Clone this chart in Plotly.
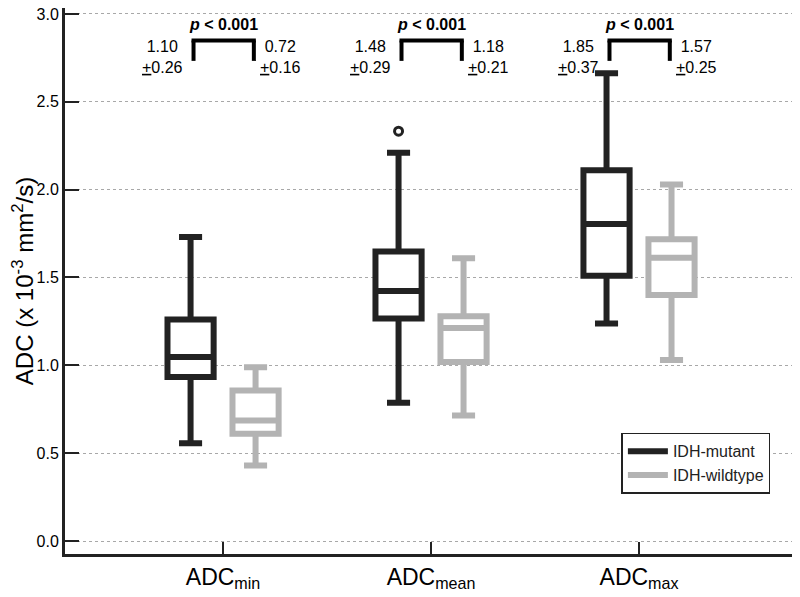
import plotly.graph_objects as go

# ---------------- data ----------------
categories = ["ADCmin", "ADCmean", "ADCmax"]
category_labels = ["ADC<sub>min</sub>", "ADC<sub>mean</sub>", "ADC<sub>max</sub>"]

mut_lower = [0.556, 0.787, 1.238]
mut_q1 = [0.933, 1.267, 1.510]
mut_median = [1.048, 1.423, 1.804]
mut_q3 = [1.261, 1.648, 2.110]
mut_upper = [1.730, 2.210, 2.663]
outlier_category = ["ADCmean"]
outlier_value = [2.333]

wt_lower = [0.430, 0.714, 1.030]
wt_q1 = [0.610, 1.019, 1.400]
wt_median = [0.686, 1.213, 1.613]
wt_q3 = [0.857, 1.280, 1.718]
wt_upper = [0.989, 1.610, 2.029]

mut_mean = ["1.10", "1.48", "1.85"]
mut_sd = ["0.26", "0.29", "0.37"]
wt_mean = ["0.72", "1.18", "1.57"]
wt_sd = ["0.16", "0.21", "0.25"]
p_values = ["0.001", "0.001", "0.001"]

y_ticks = [0.0, 0.5, 1.0, 1.5, 2.0, 2.5, 3.0]

# ---------------- style ----------------
DARK = "#222222"
GRAY = "#b3b3b3"
FONT = "Liberation Sans, Arial, sans-serif"

fig = go.Figure()

fig.add_trace(go.Box(
    name="IDH-mutant", x=categories, offsetgroup="mut",
    q1=mut_q1, median=mut_median, q3=mut_q3,
    lowerfence=mut_lower, upperfence=mut_upper,
    boxpoints=False,
    line=dict(color=DARK, width=6), fillcolor="white",
    whiskerwidth=0.5, showlegend=False, hoverinfo="skip",
))
fig.add_trace(go.Box(
    name="IDH-wildtype", x=categories, offsetgroup="wt",
    q1=wt_q1, median=wt_median, q3=wt_q3,
    lowerfence=wt_lower, upperfence=wt_upper,
    boxpoints=False,
    line=dict(color=GRAY, width=6), fillcolor="white",
    whiskerwidth=0.5, showlegend=False, hoverinfo="skip",
))
# outlier of the IDH-mutant group, placed in the same box slot
fig.add_trace(go.Box(
    name="IDH-mutant outlier", x=outlier_category, y=outlier_value,
    offsetgroup="mut", boxpoints="all", jitter=0, pointpos=0,
    line=dict(color="rgba(0,0,0,0)", width=0), fillcolor="rgba(0,0,0,0)",
    marker=dict(symbol="circle", size=8, color="white",
                line=dict(color=DARK, width=3)),
    showlegend=False, hoverinfo="skip",
))

# legend entries drawn as thick lines
fig.add_trace(go.Scatter(x=[None], y=[None], mode="lines", name="IDH-mutant",
                         line=dict(color=DARK, width=6)))
fig.add_trace(go.Scatter(x=[None], y=[None], mode="lines", name="IDH-wildtype",
                         line=dict(color=GRAY, width=6)))

# ---------------- annotations ----------------
leg_l, leg_r = -0.142, 0.148
br_top, br_bot = 2.849, 2.733
for i in range(len(categories)):
    fig.add_shape(type="line", xref="x", yref="y", x0=i + leg_l, x1=i + leg_l,
                  y0=br_bot, y1=br_top, line=dict(color="black", width=4))
    fig.add_shape(type="line", xref="x", yref="y", x0=i + leg_r, x1=i + leg_r,
                  y0=br_bot, y1=br_top, line=dict(color="black", width=4))
    fig.add_shape(type="line", xref="x", yref="y", x0=i + leg_l - 0.0096,
                  x1=i + leg_r + 0.0096, y0=br_top, y1=br_top,
                  line=dict(color="black", width=4))
    fig.add_annotation(x=i, y=2.94, xref="x", yref="y", showarrow=False,
                       text=f"<b><i>p</i> &lt; {p_values[i]}</b>",
                       font=dict(size=16, color="black", family=FONT))
    fig.add_annotation(x=i - 0.293, y=2.753, xref="x", yref="y", showarrow=False,
                       text=f"{mut_mean[i]}<br><u>+</u>{mut_sd[i]}", align="center",
                       font=dict(size=16, color="black", family=FONT))
    fig.add_annotation(x=i + 0.274, y=2.753, xref="x", yref="y", showarrow=False,
                       text=f"{wt_mean[i]}<br><u>+</u>{wt_sd[i]}", align="center",
                       font=dict(size=16, color="black", family=FONT))

fig.update_layout(
    width=792, height=589,
    margin=dict(l=57, r=0, t=0, b=43),
    paper_bgcolor="white", plot_bgcolor="white",
    boxmode="group", boxgap=0.375, boxgroupgap=0.29,
    font=dict(family=FONT, color=DARK),
    legend=dict(x=0.757, y=0.222, xanchor="left", yanchor="top",
                bgcolor="white", bordercolor=DARK, borderwidth=1.5,
                itemwidth=40,
                font=dict(size=16, color=DARK, family=FONT)),
    xaxis=dict(
        type="category", range=[-0.76, 2.774], automargin=False,
        tickvals=categories, ticktext=category_labels,
        tickfont=dict(size=23, color="black", family=FONT),
        ticks="inside", ticklen=12, tickwidth=2, tickcolor=DARK,
        showline=True, linecolor=DARK, linewidth=3,
        showgrid=False, zeroline=False,
    ),
    yaxis=dict(
        range=[-0.074, 3.034], tickvals=y_ticks, tickformat=".1f", automargin=False,
        ticklabeloverflow="allow",
        tickfont=dict(size=16, color="black", family=FONT),
        ticks="inside", ticklen=14, tickwidth=2, tickcolor=DARK,
        showline=True, linecolor=DARK, linewidth=3,
        showgrid=True, gridcolor="#a8a8a8", griddash="dot", gridwidth=1,
        zeroline=False,
        title=dict(text="ADC (x 10<sup>-3</sup> mm<sup>2</sup>/s)",
                   font=dict(size=24, color="black", family=FONT), standoff=14),
    ),
)

fig.write_html("out.html")
